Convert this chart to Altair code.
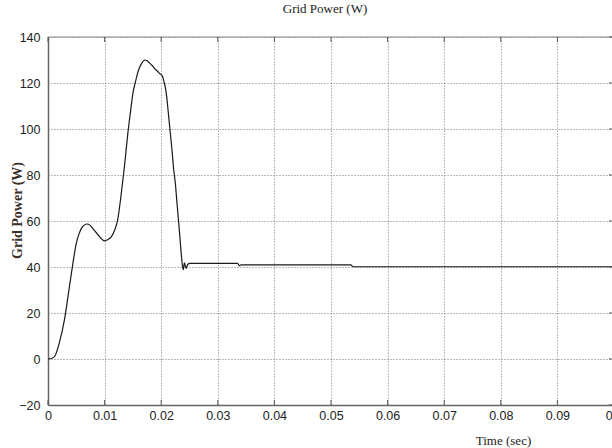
import altair as alt
import pandas as pd

# ---- data ----
time_s = [0, 0.0006, 0.0012, 0.002, 0.0029, 0.0038, 0.0044, 0.005, 0.0055, 0.0059,
          0.0064, 0.0069, 0.0074, 0.0079, 0.0085, 0.0091, 0.0096, 0.01, 0.0106, 0.0112,
          0.0118, 0.0123, 0.0129, 0.0135, 0.0141, 0.0146, 0.015, 0.0155, 0.0159, 0.0165,
          0.0171, 0.0175, 0.0179, 0.0184, 0.0188, 0.0193, 0.0197, 0.0202, 0.0205, 0.0209,
          0.0212, 0.0215, 0.0219, 0.0222, 0.0225, 0.0228, 0.0231, 0.0234, 0.0237, 0.0239,
          0.0241, 0.0244, 0.0247, 0.0251, 0.0335, 0.0338, 0.0341, 0.0345, 0.0535, 0.0539,
          0.1]
power_w = [0, 0.2, 1.2, 7, 17, 31.7, 41.6, 50.3, 54.5, 56.8,
           58.2, 58.7, 58.2, 56.8, 55, 53.2, 51.9, 51.4, 52, 53.2,
           56.2, 60.4, 71, 83.6, 98, 108, 115.5, 121, 124.9, 128.3,
           130, 129.7, 128.8, 127.6, 126.4, 125.2, 124.2, 123, 120.5, 115.5,
           108.5, 101, 91, 82.5, 76.4, 67.5, 59, 50, 41.6, 38.8,
           41.8, 39.4, 41.2, 41.6, 41.6, 40.5, 40.9, 40.9, 40.9, 40.1,
           40.1]
x_ticks = [0, 0.01, 0.02, 0.03, 0.04, 0.05, 0.06, 0.07, 0.08, 0.09, 0.1]
y_ticks = [-20, 0, 20, 40, 60, 80, 100, 120, 140]

W, H, XR = 564, 368, 566
LABEL_FONT = "Liberation Sans Narrow, Liberation Sans, Arial, sans-serif"
SERIF = "Liberation Serif, Times New Roman, serif"

df = pd.DataFrame({"t": time_s, "p": power_w})
xscale = alt.Scale(domain=[0, 0.1], range=[0, XR], nice=False, zero=False)
yscale = alt.Scale(domain=[-20, 140], nice=False, zero=False)

xaxis = alt.Axis(
    values=x_ticks, format=".2~f", title="Time (sec)",
    titleX=455, titleY=35, titleAlign="center", titleBaseline="middle",
    titleFont=SERIF, titleFontSize=13, titleFontWeight="normal", titleColor="#222",
    labelFont=LABEL_FONT, labelFontSize=12.5, labelColor="#222", labelPadding=4,
    labelFlush=False, ticks=False, domainColor="#666", domainWidth=1.5,
    grid=True, gridColor="#777", gridDash=[1, 2], gridWidth=1)
yaxis = alt.Axis(
    values=y_ticks, title="Grid Power (W)",
    titleX=-31, titleY=173, titleAngle=270, titleAlign="center", titleBaseline="middle",
    titleFont=SERIF, titleFontSize=14, titleFontWeight="bold", titleColor="#3a3028",
    labelFont=LABEL_FONT, labelFontSize=12.5, labelColor="#222", labelPadding=8,
    ticks=False, domainColor="#666", domainWidth=1.5,
    grid=True, gridColor="#777", gridDash=[1, 2], gridWidth=1)

line = alt.Chart(df).mark_line(color="#1a1a1a", strokeWidth=1.2, interpolate="monotone").encode(
    x=alt.X("t:Q", scale=xscale, axis=xaxis),
    y=alt.Y("p:Q", scale=yscale, axis=yaxis),
)

xt = pd.DataFrame({"t": x_ticks})
yt = pd.DataFrame({"p": y_ticks})
tick_col = "#555"

top_border = alt.Chart(pd.DataFrame({"t": [0]})).mark_rule(color="#888", strokeWidth=1).encode(
    x=alt.value(0), x2=alt.value(XR), y=alt.value(0))
bottom_ticks = alt.Chart(xt).mark_rule(color=tick_col, strokeWidth=1).encode(
    x=alt.X("t:Q", scale=xscale, axis=xaxis), y=alt.value(H), y2=alt.value(H - 5))
top_ticks = alt.Chart(xt).mark_rule(color=tick_col, strokeWidth=1).encode(
    x=alt.X("t:Q", scale=xscale, axis=xaxis), y=alt.value(0), y2=alt.value(5))
right_ticks = alt.Chart(yt).mark_rule(color=tick_col, strokeWidth=1).encode(
    y=alt.Y("p:Q", scale=yscale, axis=yaxis), x=alt.value(XR), x2=alt.value(XR - 5))

chart = alt.layer(line, top_border, bottom_ticks, top_ticks, right_ticks).properties(
    width=W, height=H,
    autosize=alt.AutoSizeParams(type="none"),
    padding={"left": 48, "top": 37, "right": 0, "bottom": 43},
    background="white",
    title=alt.TitleParams("Grid Power (W)", font=SERIF, fontSize=13, fontWeight="normal",
                          color="#222", offset=15, dx=-5),
).configure_view(stroke=None)

chart.save("out.html", embed_options={"renderer": "svg", "actions": False})
